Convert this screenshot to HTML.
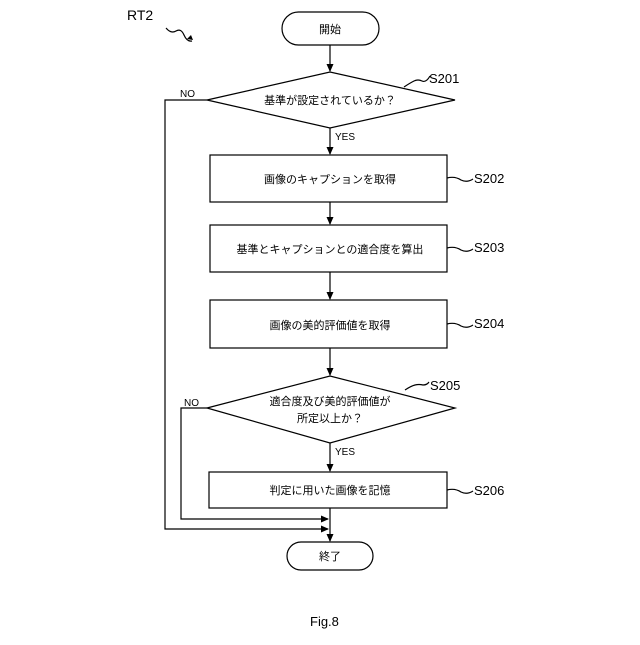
<!DOCTYPE html>
<html><head><meta charset="utf-8"><style>
body{margin:0;background:#fff}
svg text{font-family:"Liberation Sans","Noto Sans CJK JP",sans-serif;fill:#000}
</style></head><body>
<svg width="640" height="640" viewBox="0 0 640 640" xmlns="http://www.w3.org/2000/svg">
<defs><marker id="a" markerWidth="8" markerHeight="8" refX="7" refY="4" orient="auto" markerUnits="userSpaceOnUse"><path d="M0,0.5 L8,4 L0,7.5z" fill="#000"/></marker></defs>
<g stroke="#000" stroke-width="1.2" fill="none">
<rect x="282" y="12" width="97" height="33" rx="16.5"/>
<line x1="330" y1="45" x2="330" y2="71" marker-end="url(#a)"/>
<polygon points="207,100 330,72 455,100 330,128"/>
<line x1="330" y1="128" x2="330" y2="154" marker-end="url(#a)"/>
<rect x="210" y="155" width="237" height="47"/>
<line x1="330" y1="202" x2="330" y2="224" marker-end="url(#a)"/>
<rect x="210" y="225" width="237" height="47"/>
<line x1="330" y1="272" x2="330" y2="299" marker-end="url(#a)"/>
<rect x="210" y="300" width="237" height="48"/>
<line x1="330" y1="348" x2="330" y2="375" marker-end="url(#a)"/>
<polygon points="207,408 330,376 455,408 330,443"/>
<line x1="330" y1="443" x2="330" y2="471" marker-end="url(#a)"/>
<rect x="209" y="472" width="238" height="36"/>
<line x1="330" y1="508" x2="330" y2="541" marker-end="url(#a)"/>
<rect x="287" y="542" width="86" height="28" rx="14"/>
<polyline points="207,100 165,100 165,529 328,529" marker-end="url(#a)"/>
<polyline points="207,408 181,408 181,519 328,519" marker-end="url(#a)"/>
<path d="M404,87 q6,-4 10,-6 q4,-2 8,0 q4,2 8,-5"/>
<path d="M447,178 q8,-2 14,2 q6,3 12,-1"/>
<path d="M447,248 q8,-2 14,2 q6,3 12,-1"/>
<path d="M447,324 q8,-2 14,2 q6,3 12,-1"/>
<path d="M405,390 q6,-4 10,-5 q4,-1 8,0 q4,0 6,-3"/>
<path d="M447,490 q8,-2 14,2 q6,3 12,-1"/>
<path d="M166,28 q5,6 10,3 q5,-3 8,4 q3,7 8,6"/>
</g>
<path d="M193,40 l-6,-1 l4,-4z" fill="#000"/>
<g font-size="11" text-anchor="middle">
<text x="330" y="33">開始</text>
<text x="330" y="104">基準が設定されているか？</text>
<text x="330" y="183">画像のキャプションを取得</text>
<text x="330" y="253">基準とキャプションとの適合度を算出</text>
<text x="330" y="329">画像の美的評価値を取得</text>
<text x="330" y="405">適合度及び美的評価値が</text>
<text x="330" y="422">所定以上か？</text>
<text x="330" y="494">判定に用いた画像を記憶</text>
<text x="330" y="560">終了</text>
</g>
<g font-size="12">
<text x="127" y="20" font-size="14">RT2</text>
<text x="180" y="97" font-size="10">NO</text>
<text x="335" y="140" font-size="10">YES</text>
<text x="184" y="406" font-size="10">NO</text>
<text x="335" y="455" font-size="10">YES</text>
<text x="429" y="83" font-size="13">S201</text>
<text x="474" y="183" font-size="13">S202</text>
<text x="474" y="252" font-size="13">S203</text>
<text x="474" y="328" font-size="13">S204</text>
<text x="430" y="390" font-size="13">S205</text>
<text x="474" y="495" font-size="13">S206</text>
<text x="310" y="626" font-size="13">Fig.8</text>
</g>
</svg>
</body></html>
